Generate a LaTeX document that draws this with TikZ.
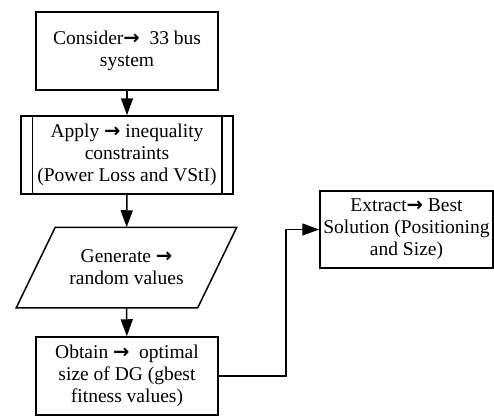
\documentclass[tikz,border=0pt]{standalone}
\usepackage{fontspec}
\setmainfont{Liberation Serif}
\newfontfamily\arrowfont{DejaVu Sans}
\usetikzlibrary{arrows.meta}
\newcommand{\ar}{{\arrowfont\bfseries →}}
\tikzset{
  box/.style={draw, line width=1.5pt, align=center, inner sep=2pt,
    minimum width=182pt, minimum height=78pt,
    font=\fontsize{19.5}{22}\selectfont},
  flow/.style={line width=1.5pt, -{Triangle[length=17pt,width=12pt]}}
}
\begin{document}
\begin{tikzpicture}[x=1pt, y=-1pt]
        \useasboundingbox (0,0) rectangle (494,417);
        \node[box] (con) at (127,51) {Consider\ar\ \ 33 bus\\system};
        \node[box, minimum width=212pt] (app) at (127,155)
          {Apply \ar\ inequality\\constraints\\(Power Loss and VStI)};
        \foreach \s/\d in {west/12, east/-12} {
          \draw[line width=1.5pt] ([xshift=\d pt]app.north \s) -- ([xshift=\d pt]app.south \s);
        }
        \node[box, draw=none, minimum width=219pt, minimum height=79pt] (gen) at (126.5,267.5)
          {Generate \ar\\random values};
        \draw[line width=1.5pt] ([xshift=39pt]gen.north west) -- (gen.north east)
          -- ([xshift=-39pt]gen.south east) -- (gen.south west) -- cycle;
        \node[box] (obt) at (127,376) {Obtain \ar\ \ optimal\\size of DG (gbest\\fitness values)};
        \node[box, minimum width=173pt, minimum height=77pt] (ext) at (406.5,229.5)
          {Extract\ar\ Best\\Solution (Positioning\\and Size)};
        \draw[flow] (con) -- (app);
        \draw[flow] (app) -- (gen);
        \draw[flow] (gen) -- (obt);
        \draw[flow] (obt.east) -- +(67,0) |- (ext.west);
      \end{tikzpicture}
\end{document}
